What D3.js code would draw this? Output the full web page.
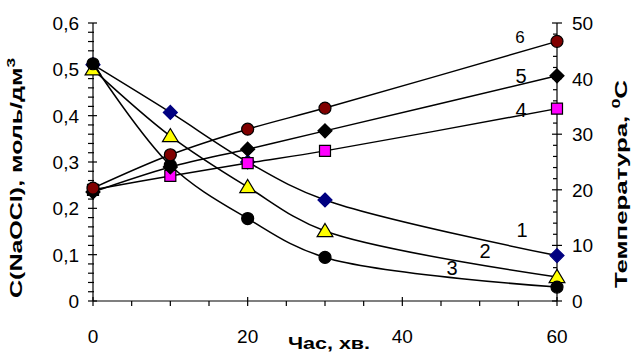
<!DOCTYPE html>
<html>
<head>
<meta charset="utf-8">
<script src="https://cdn.jsdelivr.net/npm/d3@7"></script>
<style>
  body { margin: 0; background: #fff; }
  svg { display: block; font-family: Arial, 'Liberation Sans', sans-serif; }
</style>
</head>
<body>
<div class="container"></div>
<script>
// час, хв
var time = [0, 10, 20, 30, 60];
// C(NaOCl), моль/дм3 -- криві 1, 2, 3
var conc1 = [0.51, 0.407, 0.30, 0.218, 0.098];
var conc2 = [0.50, 0.356, 0.246, 0.151, 0.052];
var conc3 = [0.512, 0.293, 0.178, 0.094, 0.030];
// температура, C -- криві 4, 5, 6
var temp4 = [20.0, 22.5, 24.8, 27.0, 34.6];
var temp5 = [19.6, 24.1, 27.3, 30.6, 40.5];
var temp6 = [20.3, 26.3, 30.9, 34.7, 46.7];

var xTicks = [0, 20, 40, 60];
var yLeftTicks = [0, 0.1, 0.2, 0.3, 0.4, 0.5, 0.6];
var yRightTicks = [0, 10, 20, 30, 40, 50];

var width = 633, height = 354;
var margin = { top: 23, right: 76, bottom: 53, left: 93 };

var svg = d3
  .select('.container')
  .append('svg')
  .attr('width', width)
  .attr('height', height);

var x = d3.scaleLinear().domain([0, 60]).range([margin.left, width - margin.right]);
var yL = d3.scaleLinear().domain([0, 0.6]).range([height - margin.bottom, margin.top]);
var yR = d3.scaleLinear().domain([0, 50]).range([height - margin.bottom, margin.top]);

var x0 = x(0), x1 = x(60), yb = yL(0), yt = yL(0.6);

// ticks
var ax = svg.append('g').attr('stroke', '#000').attr('stroke-width', 1.2);
d3.range(0, 61, 5).forEach(function (t) {
  var major = t % 20 == 0;
  ax.append('line').attr('x1', x(t)).attr('x2', x(t))
    .attr('y1', major ? yb - 4 : yb).attr('y2', yb + 5);
});
d3.range(0, 0.601, 0.02).forEach(function (v) {
  var major = Math.abs(v * 10 - Math.round(v * 10)) < 1e-6;
  ax.append('line').attr('x1', x0 - 5).attr('x2', major ? x0 + 4 : x0 + 1)
    .attr('y1', yL(v)).attr('y2', yL(v));
});
d3.range(0, 50.1, 2).forEach(function (v) {
  var major = v % 10 == 0;
  ax.append('line').attr('x1', major ? x1 - 5 : x1 - 4).attr('x2', major ? x1 + 5 : x1)
    .attr('y1', yR(v)).attr('y2', yR(v));
});
ax.append('line').attr('x1', x0).attr('x2', x1).attr('y1', yb).attr('y2', yb);
ax.append('line').attr('x1', x0).attr('x2', x0).attr('y1', yb).attr('y2', yt);
ax.append('line').attr('x1', x1).attr('x2', x1).attr('y1', yb).attr('y2', yt);

// tick labels
var fmtL = function (d) { return d === 0 ? '0' : d3.format('.1f')(d).replace('.', ','); };
svg.append('g').selectAll('text').data(yLeftTicks).enter().append('text')
  .attr('x', x0 - 14).attr('y', function (d) { return yL(d) + 7; })
  .attr('text-anchor', 'end').attr('font-size', 19)
  .text(fmtL);
svg.append('g').selectAll('text').data(yRightTicks).enter().append('text')
  .attr('x', x1 + 15).attr('y', function (d) { return yR(d) + 7; })
  .attr('text-anchor', 'start').attr('font-size', 19)
  .text(function (d) { return d; });
svg.append('g').selectAll('text').data(xTicks).enter().append('text')
  .attr('x', function (d) { return x(d); }).attr('y', 343)
  .attr('text-anchor', 'middle').attr('font-size', 19)
  .text(function (d) { return d; });

// axis titles
svg.append('text')
  .attr('transform', 'translate(22,178) rotate(-90)')
  .attr('text-anchor', 'middle').attr('font-size', 16).attr('font-weight', 'bold')
  .attr('textLength', 240).attr('lengthAdjust', 'spacingAndGlyphs')
  .text('C(NaOCl), моль/дм')
  .append('tspan').attr('font-size', 11).attr('dy', -7).text('3');

var rt = svg.append('text')
  .attr('transform', 'translate(627,184) rotate(-90)')
  .attr('text-anchor', 'middle').attr('font-size', 16).attr('font-weight', 'bold')
  .attr('textLength', 208).attr('lengthAdjust', 'spacingAndGlyphs');
rt.append('tspan').text('Температура, ');
rt.append('tspan').attr('font-size', 11).attr('dy', -7).text('0');
rt.append('tspan').attr('dy', 7).text('C');

svg.append('text')
  .attr('x', 329).attr('y', 349)
  .attr('text-anchor', 'middle').attr('font-size', 16).attr('font-weight', 'bold')
  .attr('textLength', 82).attr('lengthAdjust', 'spacingAndGlyphs')
  .text('Час, хв.');

// series
var line = d3.line().curve(d3.curveCatmullRom.alpha(0.5));

function diamond(s) {
  return 'M0,' + -s + 'L' + s + ',0L0,' + s + 'L' + -s + ',0Z';
}
function triangle(s) {
  return 'M0,' + -s + 'L' + s * 1.05 + ',' + s * 0.75 + 'L' + -s * 1.05 + ',' + s * 0.75 + 'Z';
}
function square(s) {
  return 'M' + -s + ',' + -s + 'H' + s + 'V' + s + 'H' + -s + 'Z';
}
function circle(s) {
  return 'M' + s + ',0A' + s + ',' + s + ' 0 1,1 ' + -s + ',0A' + s + ',' + s + ' 0 1,1 ' + s + ',0Z';
}

var series = [
  { vals: conc1, y: yL, shape: diamond(7), fill: '#000080', stroke: '#000080' },
  { vals: conc2, y: yL, shape: triangle(7.5), fill: '#ffff00', stroke: '#000' },
  { vals: conc3, y: yL, shape: circle(6), fill: '#000', stroke: '#000' },
  { vals: temp4, y: yR, shape: square(5.5), fill: '#ff00ff', stroke: '#000' },
  { vals: temp5, y: yR, shape: diamond(7), fill: '#000', stroke: '#000' },
  { vals: temp6, y: yR, shape: circle(6), fill: '#800000', stroke: '#000' }
];

series.forEach(function (s) {
  var pts = time.map(function (t, i) { return [x(t), s.y(s.vals[i])]; });
  svg.append('path').attr('d', line(pts))
    .attr('fill', 'none').attr('stroke', '#000').attr('stroke-width', 1.5);
  svg.append('g').selectAll('path').data(pts).enter().append('path')
    .attr('d', s.shape)
    .attr('transform', function (p) { return 'translate(' + p[0] + ',' + p[1] + ')'; })
    .attr('fill', s.fill).attr('stroke', s.stroke).attr('stroke-width', 1.2);
});

// curve numbers
var labels = [
  { t: '1', x: 522, y: 237, size: 20 },
  { t: '2', x: 485, y: 258, size: 20 },
  { t: '3', x: 452, y: 275, size: 20 },
  { t: '4', x: 521, y: 117, size: 20 },
  { t: '5', x: 521, y: 83, size: 20 },
  { t: '6', x: 520, y: 43, size: 17 }
];
svg.append('g').selectAll('text').data(labels).enter().append('text')
  .attr('x', function (d) { return d.x; }).attr('y', function (d) { return d.y; })
  .attr('text-anchor', 'middle').attr('font-size', function (d) { return d.size; })
  .text(function (d) { return d.t; });
</script>
</body>
</html>
